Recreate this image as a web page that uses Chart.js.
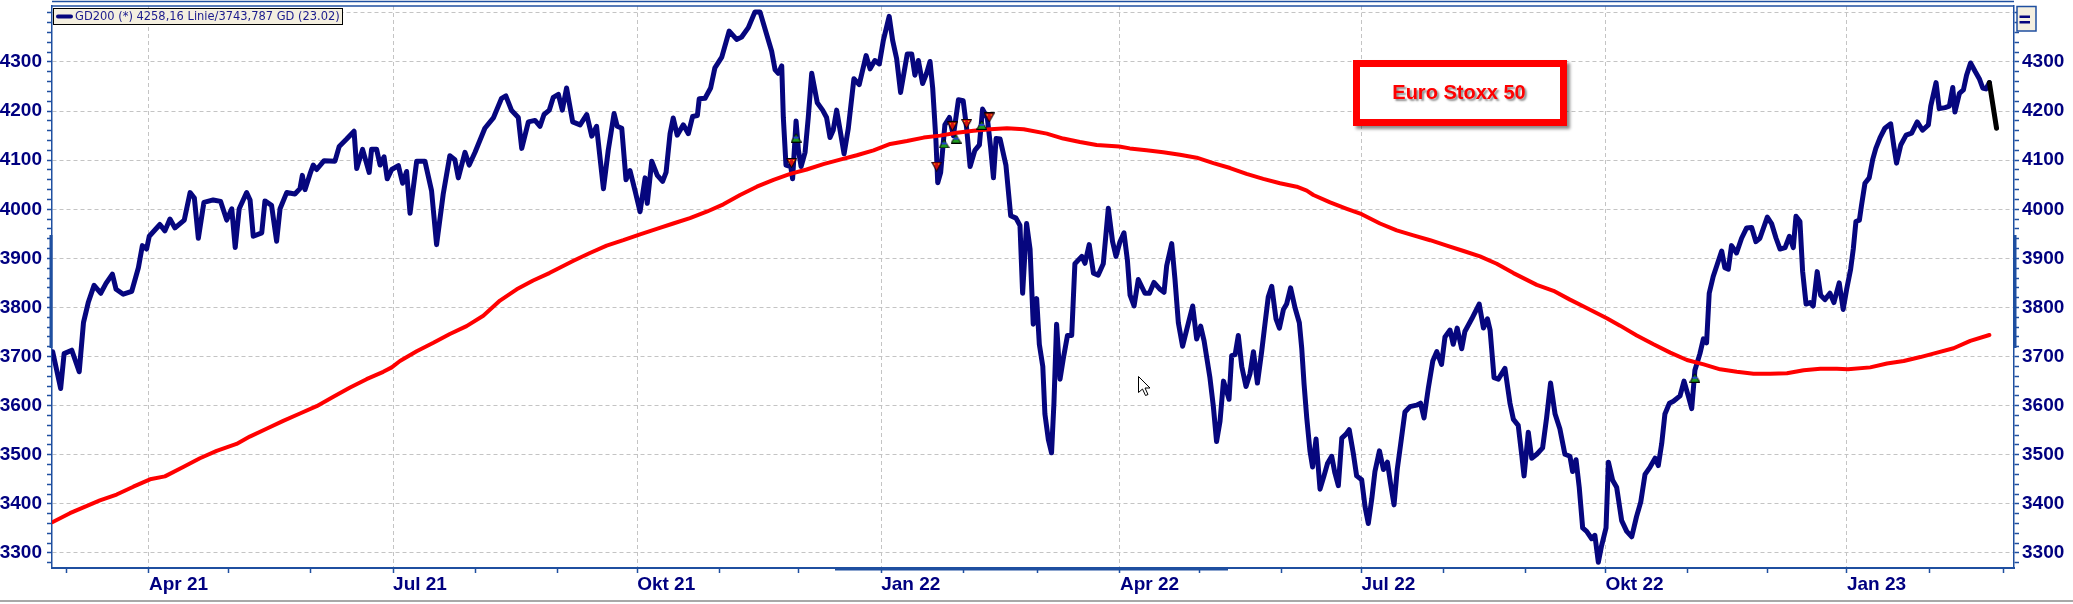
<!DOCTYPE html>
<html>
<head>
<meta charset="utf-8">
<title>Euro Stoxx 50 - GD200</title>
<script src="https://cdn.jsdelivr.net/npm/chart.js@4.4.0/dist/chart.umd.min.js"></script>
<style>
  html, body { margin: 0; padding: 0; background: #fff; }
  #chartBox { width: 2073px; height: 604px; }
</style>
</head>
<body>
<div id="chartBox"><canvas id="stoxxChart" width="2073" height="604"></canvas></div>
<script>
// x = Tage seit 01.04.2021
const closeDays = [
  -36.3, -33.3, -32.0, -29.1, -26.3, -24.7, -22.9, -20.7, -18.2, -16.2,
  -13.8, -12.4, -9.7, -6.5, -4.0, -2.5, -0.9, 0.1, 4.1, 6.0,
  7.9, 9.8, 13.3, 15.5, 17.1, 18.6, 20.7, 24.2, 27.0, 29.3,
  31.2, 32.5, 34.0, 36.8, 38.1, 39.3, 42.5, 43.7, 46.2, 48.1,
  49.4, 51.9, 55.0, 56.9, 57.8, 58.8, 60.7, 61.9, 63.2, 66.0,
  70.1, 71.7, 74.5, 77.3, 78.3, 80.5, 83.0, 83.9, 85.8, 87.1,
  88.6, 89.8, 91.5, 94.0, 95.6, 97.1, 98.4, 100.9, 104.0, 106.5,
  108.4, 110.9, 113.4, 115.3, 116.6, 119.1, 120.7, 122.9, 126.6, 129.8,
  132.9, 134.5, 136.7, 139.2, 140.5, 143.0, 145.5, 147.4, 148.9, 150.9,
  152.4, 154.3, 155.8, 157.4, 159.7, 162.5, 165.0, 166.9, 168.7, 169.7,
  171.3, 173.1, 175.3, 176.5, 178.2, 179.8, 181.3, 183.2, 185.1, 187.0,
  187.8, 189.5, 191.6, 193.6, 194.9, 196.4, 197.6, 199.1, 201.4, 203.3,
  204.9, 206.7, 207.4, 209.6, 211.7, 213.3, 215.9, 218.7, 221.5, 223.4,
  225.9, 228.4, 230.3, 233.8, 234.7, 236.0, 237.2, 238.5, 239.1, 240.1,
  241.9, 242.6, 243.9, 244.8, 245.8, 247.3, 248.5, 249.8, 251.9, 253.9,
  255.4, 256.7, 257.9, 259.2, 260.5, 262.0, 263.6, 265.7, 267.7, 270.3,
  271.8, 273.6, 275.3, 276.8, 279.0, 280.3, 281.8, 283.3, 285.8, 287.5,
  288.7, 290.0, 291.6, 293.1, 294.4, 295.4, 296.6, 297.3, 298.4, 300.0,
  301.7, 303.2, 305.1, 306.9, 308.2, 309.5, 311.3, 313.0, 314.2, 316.0,
  317.2, 318.3, 319.3, 320.8, 323.0, 324.8, 326.8, 328.3, 329.3, 330.8,
  332.1, 333.3, 334.6, 335.6,
  336.9, 337.7, 339.0, 340.2, 341.1, 342.1, 343.4, 344.6, 346.2, 347.8,
  349.0, 351.6, 352.8, 354.4, 356.0, 357.8, 359.7, 361.6, 363.2, 364.5,
  366.0, 367.5, 368.8, 369.8, 371.3, 372.9, 375.4, 377.1, 378.8, 381.1,
  382.6, 383.6, 385.5, 386.7, 388.0, 389.6, 391.1, 393.4, 394.9, 396.4,
  397.7, 399.9, 401.2, 402.4, 403.7, 405.0, 405.9, 407.1, 408.1, 409.4,
  410.6, 411.9, 413.5, 415.0, 416.3, 417.8, 419.4, 420.7, 421.9, 423.2,
  424.8, 426.1, 427.6, 428.8, 430.3, 432.0, 433.6, 434.5, 435.4, 436.4,
  437.6, 438.6, 439.9, 441.4, 442.9, 444.2, 445.8, 447.0, 448.3, 449.6,
  451.2, 452.4, 454.0, 455.2, 457.1, 458.4, 459.6, 460.9, 462.1, 463.8,
  465.3, 466.8, 468.0, 469.3, 470.5, 471.8, 473.4, 475.3, 477.8, 479.3,
  480.6, 482.2, 483.9, 485.4, 487.2, 488.5, 490.4, 491.6, 493.1, 494.8,
  496.0, 498.6, 501.4, 503.0, 504.5, 505.5, 507.0, 508.6, 511.1, 513.0,
  514.3, 516.1, 517.4,
  518.3, 519.9, 521.2, 523.1, 525.3, 526.8, 528.3, 530.0, 531.8, 533.7,
  535.6, 536.6, 537.9, 539.1, 540.4, 541.9, 543.8, 545.0, 546.3, 547.5,
  549.2, 550.1, 551.7, 553.2, 555.1, 557.0, 558.9, 560.7, 562.3, 563.9,
  565.8, 567.7, 568.9, 570.2, 571.4, 573.1, 574.6, 577.1, 578.6, 580.2,
  581.5, 582.7, 584.6, 585.9, 587.1, 588.1, 589.6, 591.2, 592.8, 594.0,
  595.3, 596.5, 598.4, 600.3, 602.2, 604.1, 605.7, 607.2, 610.0, 611.6,
  613.3, 614.8, 616.7, 618.3, 619.8, 620.8, 622.3, 623.3, 624.6, 626.1,
  627.3, 628.8, 630.1, 631.7, 633.6, 635.1, 637.1, 638.6, 639.9, 641.4,
  642.4, 643.4, 644.7, 645.5, 646.8, 648.4, 649.7, 650.9, 652.5, 654.3,
  656.5, 657.7, 658.7, 660.3, 662.3, 664.4, 666.5, 668.5, 670.7, 671.6,
  673.6, 674.8, 677.0, 678.6, 679.9, 680.7, 682.4, 683.9, 685.1, 686.6,
  688.3, 689.9, 691.2, 692.4, 693.7
];
const closeValues = [
  3710, 3635, 3706, 3713, 3669, 3769, 3810, 3845, 3829, 3849,
  3868, 3837, 3827, 3833, 3881, 3926, 3919, 3945, 3969, 3956,
  3980, 3962, 3978, 4034, 4023, 3941, 4014, 4019, 4016, 3978,
  4001, 3922, 4001, 4034, 4019, 3945, 3952, 4017, 4008, 3935,
  4001, 4034, 4031, 4042, 4069, 4040, 4072, 4090, 4081, 4099,
  4098, 4128, 4143, 4159, 4083, 4122, 4075, 4122, 4122, 4090,
  4107, 4062, 4081, 4089, 4053, 4077, 3992, 4098, 4098, 4038,
  3928, 4031, 4109, 4101, 4064, 4116, 4090, 4116, 4165, 4186,
  4226, 4231, 4201, 4187, 4124, 4178, 4181, 4169, 4193, 4202,
  4228, 4234, 4202, 4247, 4178, 4172, 4193, 4149, 4169, 4120,
  4042, 4120, 4195, 4169, 4165, 4060, 4079, 4038, 3995, 4064,
  4012, 4098, 4069, 4057, 4075, 4154, 4186, 4151, 4172, 4154,
  4189, 4191, 4225, 4226, 4247, 4288, 4310, 4363, 4346, 4351,
  4370, 4402, 4402, 4338, 4322, 4284, 4277, 4292, 4187, 4090,
  4087, 4062, 4180, 4120, 4087, 4116, 4187, 4277, 4217, 4202,
  4187, 4146, 4161, 4202, 4161, 4113, 4165, 4266, 4254, 4313,
  4286, 4303, 4296, 4344, 4393, 4344, 4307, 4238, 4316, 4316,
  4273, 4303, 4256, 4277, 4301, 4247, 4143, 4054, 4075, 4172,
  4187, 4150, 4223, 4221, 4165, 4087, 4120, 4131, 4204, 4186,
  4128, 4064, 4144, 4143, 4090, 3987, 3982, 3967, 3829, 3971,
  3919, 3766, 3818, 3725,
  3680, 3583, 3531, 3504, 3605, 3766, 3654, 3695, 3743, 3743,
  3889, 3904, 3890, 3928, 3870, 3866, 3889, 4002, 3934, 3904,
  3934, 3952, 3896, 3825, 3803, 3857, 3829, 3829, 3851, 3837,
  3831, 3885, 3930, 3859, 3769, 3721, 3754, 3803, 3736, 3762,
  3732, 3657, 3598, 3527, 3568, 3650, 3635, 3613, 3702, 3704,
  3743, 3680, 3639, 3665, 3710, 3646, 3710, 3769, 3822, 3843,
  3777, 3758, 3796, 3807, 3840, 3799, 3769, 3717, 3643, 3575,
  3508, 3475, 3532, 3430, 3457, 3482, 3497, 3463, 3437, 3534,
  3542, 3551, 3501, 3457, 3449, 3393, 3360, 3410, 3466, 3508,
  3470, 3485, 3441, 3398, 3470, 3522, 3587, 3598, 3601, 3605,
  3575, 3635, 3691, 3710, 3684, 3740, 3754, 3725, 3758, 3716,
  3751, 3777, 3807, 3758, 3777, 3754, 3657, 3654, 3676, 3605,
  3572, 3560, 3501,
  3457, 3546, 3493, 3501, 3514, 3575, 3646, 3583, 3553, 3501,
  3497, 3466, 3490, 3434, 3351, 3344, 3329, 3336, 3281, 3314,
  3351, 3485, 3448, 3434, 3366, 3344, 3333, 3374, 3404, 3460,
  3475, 3493, 3478, 3523, 3583, 3605, 3609, 3620, 3650, 3620,
  3594, 3672, 3706, 3736, 3728, 3829, 3863, 3889, 3915, 3881,
  3878, 3926, 3911, 3941, 3962, 3963, 3934, 3941, 3984, 3971,
  3941, 3919, 3922, 3945, 3922, 3986, 3975, 3874, 3807, 3810,
  3803, 3873, 3825, 3816, 3829, 3810, 3850, 3796, 3837, 3878,
  3919, 3975, 3978, 4008, 4053, 4064, 4101, 4124, 4146, 4165,
  4174, 4128, 4094, 4131, 4151, 4155, 4178, 4161, 4172, 4210,
  4258, 4205, 4207, 4210, 4248, 4198, 4236, 4243, 4273, 4298,
  4281, 4266, 4247, 4245, 4258
];

// GD200 (200-Tage-Linie)
const gdDays = [
  -36.3, -29.8, -24.7, -18.5, -12.2, -5.9, 0.4, 6.0, 12.9, 19.2,
  25.5, 33.0, 38.0, 44.3, 50.6, 56.9, 63.2, 69.5, 75.8, 82.0,
  88.3, 91.5, 94.6, 100.9, 107.2, 113.4, 119.7, 126.0, 132.3, 138.6,
  144.8, 150.9, 153.7, 160.0, 166.2, 172.5, 178.8, 185.1, 191.4, 197.6,
  203.9, 210.2, 216.5, 222.8, 229.1, 235.4, 241.7, 247.9, 254.2, 260.5,
  266.8, 273.1, 279.4, 285.7, 292.0, 298.2, 304.5, 310.8, 317.1, 323.4,
  329.7, 338.4, 344.6, 350.9, 357.2, 365.7, 369.7, 376.0, 382.3, 388.6,
  394.9, 401.2, 407.5, 413.7, 420.0, 426.3, 432.6, 436.4, 438.9, 445.2,
  451.5, 457.1, 464.0, 470.3, 476.6, 482.9, 489.2, 495.5, 501.7, 508.0,
  514.3, 523.1, 529.4, 535.6, 541.9, 549.5, 554.5, 560.8, 567.1, 573.4,
  579.7, 586.0, 592.2, 598.5, 604.8, 611.1, 617.4, 623.7, 630.0, 636.2,
  640.4, 648.8, 655.1, 661.4, 667.7, 674.0, 680.2, 686.5, 693.7
];
const gdValues = [
  3363, 3381, 3393, 3407, 3419, 3435, 3450, 3456, 3475, 3493,
  3508, 3522, 3537, 3553, 3569, 3584, 3599, 3618, 3637, 3654,
  3669, 3678, 3691, 3711, 3728, 3746, 3762, 3783, 3814, 3837,
  3855, 3870, 3878, 3895, 3911, 3926, 3937, 3949, 3960, 3971,
  3982, 3995, 4010, 4029, 4046, 4060, 4072, 4081, 4092, 4101,
  4110, 4120, 4133, 4139, 4146, 4150, 4156, 4160, 4163, 4165,
  4163, 4154, 4144, 4137, 4131, 4128, 4124, 4120, 4116, 4111,
  4105, 4094, 4084, 4072, 4062, 4053, 4046, 4038, 4029, 4014,
  4001, 3990, 3971, 3957, 3947, 3937, 3926, 3915, 3904, 3889,
  3870, 3846, 3834, 3816, 3799, 3778, 3763, 3743, 3725, 3708,
  3693, 3684, 3674, 3669, 3665, 3665, 3666, 3672, 3675, 3675,
  3674, 3678, 3686, 3691, 3699, 3708, 3717, 3732, 3744
];

// letztes (laufendes) Stück in schwarz
const lastDays = [693.7, 696.4];
const lastValues = [4258, 4165];

// Signale
const sellDays = [242.2, 296.9, 302.8, 308.2, 316.7];
const sellValues = [4094, 4087, 4169, 4174, 4187];
const buyDays = [243.9, 299.7, 304.2, 313.9, 582.7];
const buyValues = [4146, 4134, 4144, 4172, 3657];

// Achsen
const monthTickDays = [-31, 0, 30, 61, 92, 123, 154, 184, 215, 245, 276, 307, 335,
  366, 396, 427, 457, 488, 519, 549, 580, 610, 640, 671, 699];
const quarterTickDays = [0, 92, 184, 276, 366, 457, 549, 640];
const quarterLabels = ['Apr 21', 'Jul 21', 'Okt 21', 'Jan 22', 'Apr 22', 'Jul 22', 'Okt 22', 'Jan 23'];
const yMin = 3269.4;
const yMax = 4414;
const yTickStep = 20;
const yLabelStep = 100;
const yLabelMax = 4300;

const legendText = 'GD200 (*) 4258,16 Linie/3743,787 GD (23.02)';
const boxTitle = 'Euro Stoxx 50';

const navy = '#06067e';
const frameColor = '#1f4fa0';
const gridColor = '#c4c4c4';
const labelColor = '#000080';
const labelFont = { family: '"Liberation Sans", Arial, sans-serif', size: 19, weight: 'bold' };

function toPoints(xs, ys) {
  return xs.map((x, i) => ({ x: x, y: ys[i] }));
}

function yTicks() {
  const ticks = [];
  for (let v = 3280; v <= 4400; v += yTickStep) ticks.push({ value: v });
  return ticks;
}

function yLabel(value) {
  return (value % yLabelStep === 0 && value <= yLabelMax) ? String(value) : '';
}

// kleine Signal-Symbole
function makeSellIcon() {
  const c = document.createElement('canvas');
  c.width = 11; c.height = 10;
  const g = c.getContext('2d');
  g.beginPath();
  g.moveTo(0.5, 0.5); g.lineTo(10.5, 0.5); g.lineTo(5.5, 9.5); g.closePath();
  g.fillStyle = '#d81010'; g.fill();
  g.strokeStyle = '#000'; g.lineWidth = 1; g.stroke();
  g.fillStyle = '#ffe000';
  g.fillRect(3, 2, 1, 1); g.fillRect(7, 2, 1, 1);
  return c;
}
function makeBuyIcon() {
  const c = document.createElement('canvas');
  c.width = 11; c.height = 10;
  const g = c.getContext('2d');
  g.beginPath();
  g.moveTo(0.5, 9.5); g.lineTo(10.5, 9.5); g.lineTo(5.5, 1); g.closePath();
  g.fillStyle = '#1f9a1f'; g.fill();
  g.strokeStyle = '#000'; g.lineWidth = 1; g.stroke();
  g.fillStyle = '#2040d0';
  g.fillRect(3, 4, 5, 2);
  return c;
}

const decorPlugin = {
  id: 'decor',
  afterDatasetsDraw(chart) {
    // Titelbox
    const ctx = chart.ctx;
    ctx.save();
    ctx.shadowColor = 'rgba(0,0,0,0.45)';
    ctx.shadowBlur = 3;
    ctx.shadowOffsetX = 3;
    ctx.shadowOffsetY = 3;
    ctx.fillStyle = '#ff0000';
    ctx.fillRect(1353, 60, 214, 66);
    ctx.shadowColor = 'transparent';
    ctx.fillStyle = '#ffffff';
    ctx.fillRect(1360, 67, 200, 52);
    ctx.font = 'bold 20px "Liberation Sans", Arial, sans-serif';
    ctx.textAlign = 'center';
    ctx.textBaseline = 'middle';
    ctx.shadowColor = 'rgba(0,0,0,0.45)';
    ctx.shadowBlur = 2;
    ctx.shadowOffsetX = 2;
    ctx.shadowOffsetY = 2;
    ctx.fillStyle = '#ff0000';
    ctx.fillText(boxTitle, 1459, 93);
    ctx.restore();
  },
  afterDraw(chart) {
    const ctx = chart.ctx;
    const a = chart.chartArea;
    ctx.save();

    // Rahmen oben
    ctx.strokeStyle = frameColor;
    ctx.lineWidth = 1.5;
    ctx.beginPath();
    ctx.moveTo(a.left, a.top); ctx.lineTo(a.right, a.top);
    ctx.moveTo(a.left, 1.5); ctx.lineTo(a.right, 1.5);
    ctx.stroke();

    // Scroll-Markierungen auf den Achsen
    ctx.lineWidth = 3;
    ctx.beginPath();
    ctx.moveTo(a.left - 1, 235); ctx.lineTo(a.left - 1, 348);
    ctx.moveTo(a.right + 1, 235); ctx.lineTo(a.right + 1, 348);
    ctx.moveTo(835, a.bottom + 1); ctx.lineTo(1228, a.bottom + 1);
    ctx.stroke();

    // Legende
    ctx.fillStyle = '#f4efe0';
    ctx.fillRect(53.5, 8.5, 289, 16);
    ctx.strokeStyle = '#000';
    ctx.lineWidth = 1;
    ctx.strokeRect(53.5, 8.5, 289, 16);
    ctx.strokeStyle = navy;
    ctx.lineWidth = 4;
    ctx.lineCap = 'round';
    ctx.beginPath();
    ctx.moveTo(58, 16.5); ctx.lineTo(71, 16.5);
    ctx.stroke();
    ctx.font = '12px "DejaVu Sans", Verdana, sans-serif';
    const w = ctx.measureText(legendText).width;
    const fs = 12 * 265 / w;
    ctx.font = fs.toFixed(2) + 'px "DejaVu Sans", Verdana, sans-serif';
    ctx.fillStyle = '#1a1a8c';
    ctx.textBaseline = 'middle';
    ctx.textAlign = 'left';
    ctx.fillText(legendText, 75, 17);

    // "=" Knopf rechts oben
    ctx.fillStyle = '#f4efe0';
    ctx.fillRect(2017, 6.5, 19, 24.5);
    ctx.strokeStyle = frameColor;
    ctx.lineWidth = 1.5;
    ctx.strokeRect(2017, 6.5, 19, 24.5);
    ctx.fillStyle = navy;
    ctx.fillRect(2019.5, 15.5, 10.5, 2.5);
    ctx.fillRect(2019.5, 21, 10.5, 2.5);

    // Trennlinie unten
    ctx.strokeStyle = '#a8a8a8';
    ctx.lineWidth = 2;
    ctx.lineCap = 'butt';
    ctx.beginPath();
    ctx.moveTo(0, 601); ctx.lineTo(2073, 601);
    ctx.stroke();

    // Mauszeiger
    ctx.translate(1138.5, 376.5);
    ctx.beginPath();
    ctx.moveTo(0, 0); ctx.lineTo(0, 16); ctx.lineTo(4, 12.5); ctx.lineTo(7, 19);
    ctx.lineTo(9.5, 18); ctx.lineTo(6.5, 11.5); ctx.lineTo(11.5, 11.5); ctx.closePath();
    ctx.fillStyle = '#fff';
    ctx.fill();
    ctx.strokeStyle = '#000';
    ctx.lineWidth = 1;
    ctx.lineJoin = 'miter';
    ctx.stroke();
    ctx.restore();
  }
};

const yAxisBase = {
  type: 'linear',
  min: yMin,
  max: yMax,
  afterBuildTicks: (scale) => { scale.ticks = yTicks(); },
  ticks: {
    autoSkip: false,
    color: labelColor,
    font: labelFont,
    callback: (value) => yLabel(value)
  },
  border: { display: true, color: frameColor, width: 1.5, dash: [4, 3] }
};

new Chart(document.getElementById('stoxxChart'), {
  type: 'line',
  data: {
    datasets: [
      {
        label: 'Signale Verkauf',
        data: toPoints(sellDays, sellValues),
        showLine: false,
        pointStyle: makeSellIcon(),
        pointRadius: 5,
        order: 0
      },
      {
        label: 'Signale Kauf',
        data: toPoints(buyDays, buyValues),
        showLine: false,
        pointStyle: makeBuyIcon(),
        pointRadius: 5,
        order: 0
      },
      {
        label: 'GD200',
        data: toPoints(gdDays, gdValues),
        borderColor: '#ff0000',
        borderWidth: 4,
        pointRadius: 0,
        tension: 0,
        borderJoinStyle: 'round',
        borderCapStyle: 'round',
        order: 1
      },
      {
        label: 'Aktuell',
        data: toPoints(lastDays, lastValues),
        borderColor: '#000000',
        borderWidth: 5,
        pointRadius: 0,
        borderCapStyle: 'round',
        order: 2
      },
      {
        label: 'Euro Stoxx 50',
        data: toPoints(closeDays, closeValues),
        borderColor: navy,
        borderWidth: 5,
        pointRadius: 0,
        tension: 0,
        borderJoinStyle: 'round',
        borderCapStyle: 'round',
        order: 3
      }
    ]
  },
  options: {
    responsive: false,
    animation: false,
    devicePixelRatio: 1,
    layout: { padding: { top: 6, left: 0, right: 0, bottom: 0 } },
    plugins: {
      legend: { display: false },
      tooltip: { enabled: false }
    },
    scales: {
      x: {
        type: 'linear',
        min: -36.56,
        max: 702.98,
        afterBuildTicks: (scale) => { scale.ticks = monthTickDays.map(v => ({ value: v })); },
        afterFit: (scale) => {
          scale.height = 36;
          scale.paddingLeft = 0; scale.paddingRight = 0;
        },
        ticks: {
          autoSkip: false,
          maxRotation: 0,
          minRotation: 0,
          align: 'start',
          padding: 0,
          color: labelColor,
          font: labelFont,
          callback: (value) => {
            const i = quarterTickDays.indexOf(value);
            return i >= 0 ? quarterLabels[i] : '';
          }
        },
        grid: {
          color: (c) => (c.tick && quarterTickDays.includes(c.tick.value)) ? gridColor : 'rgba(0,0,0,0)',
          lineWidth: 1,
          tickColor: frameColor,
          tickLength: 5,
          tickWidth: 1.5,
          tickBorderDash: []
        },
        border: { display: true, color: frameColor, width: 2, dash: [4, 3] }
      },
      y: Object.assign({}, yAxisBase, {
        position: 'left',
        afterFit: (scale) => {
          scale.width = 52;
          scale.paddingTop = 0; scale.paddingBottom = 0;
        },
        ticks: Object.assign({}, yAxisBase.ticks, { padding: 5 }),
        grid: {
          color: (c) => (c.tick && c.tick.value % yLabelStep === 0) ? gridColor : 'rgba(0,0,0,0)',
          lineWidth: 1,
          tickColor: frameColor,
          tickLength: 5,
          tickWidth: 1.5,
          tickBorderDash: []
        }
      }),
      y2: Object.assign({}, yAxisBase, {
        position: 'right',
        afterFit: (scale) => {
          scale.width = 59;
          scale.paddingTop = 0; scale.paddingBottom = 0;
        },
        ticks: Object.assign({}, yAxisBase.ticks, { padding: 3 }),
        grid: {
          drawOnChartArea: false,
          color: frameColor,
          tickColor: frameColor,
          tickLength: 5,
          tickWidth: 1.5,
          tickBorderDash: []
        }
      })
    }
  },
  plugins: [decorPlugin]
});
</script>
</body>
</html>
